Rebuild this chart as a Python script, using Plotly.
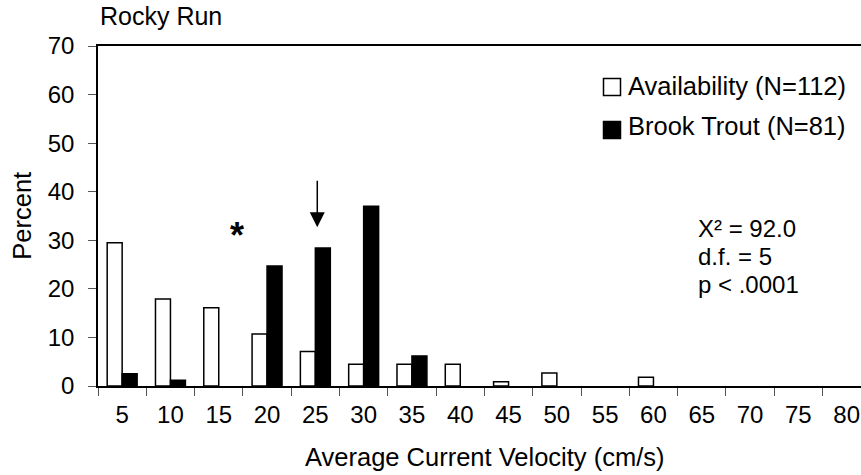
import plotly.graph_objects as go

# ---- data ----
categories = ["5", "10", "15", "20", "25", "30", "35", "40",
              "45", "50", "55", "60", "65", "70", "75", "80"]
availability = [29.5, 17.9, 16.1, 10.7, 7.1, 4.5, 4.5, 4.5,
                0.9, 2.7, 0, 1.8, 0, 0, 0, 0]
brook_trout = [2.5, 1.2, 0, 24.7, 28.4, 37.0, 6.2, 0,
               0, 0, 0, 0, 0, 0, 0, 0]
series_names = ["Availability (N=112)", "Brook Trout (N=81)"]
stats_lines = ["X\u00b2 = 92.0", "d.f. = 5", "p < .0001"]
y_ticks = [0, 10, 20, 30, 40, 50, 60, 70]

FONT = "Liberation Sans, Arial, sans-serif"
W, H = 861, 475
ML, MR, MT, MB = 98, 0, 46, 89
PW, PH = W - ML - MR, H - MT - MB


def px(x):
    return (x - ML) / PW


def py(y):
    return (H - MB - y) / PH


def outline(vals):
    # no outline on empty bars so they do not thicken the axis line
    return [1.5 if v > 0 else 0 for v in vals]


fig = go.Figure()
fig.add_trace(go.Bar(x=categories, y=availability, name=series_names[0],
                     marker=dict(color="white",
                                 line=dict(color="black", width=outline(availability))),
                     showlegend=False))
fig.add_trace(go.Bar(x=categories, y=brook_trout, name=series_names[1],
                     marker=dict(color="black",
                                 line=dict(color="black", width=outline(brook_trout))),
                     showlegend=False))

# visible categories: last one is cut by the right edge
cat_w = 48.3
x_end = -0.5 + PW / cat_w

fig.update_layout(
    width=W, height=H, autosize=False,
    margin=dict(l=ML, r=MR, t=MT, b=MB, pad=0),
    paper_bgcolor="white", plot_bgcolor="white",
    barmode="group", bargap=0.38, bargroupgap=0,
    font=dict(family=FONT, size=24, color="black"),
    xaxis=dict(type="category", range=[-0.5, x_end], tickson="boundaries",
               ticks="outside", ticklen=8, tickwidth=1, tickcolor="#555",
               showline=True, linecolor="black", linewidth=1.5, mirror=True,
               showgrid=False, zeroline=False, ticklabelstandoff=6,
               tickfont=dict(size=24)),
    yaxis=dict(range=[0, 70], tickvals=y_ticks, ticks="outside", ticklen=8,
               tickwidth=1, tickcolor="#555", showline=True, linecolor="black",
               linewidth=1.5, showgrid=False, zeroline=False,
               ticklabelstandoff=9, tickfont=dict(size=24)),
)

ann = []
# chart title
ann.append(dict(x=px(98), y=py(15.7), xref="paper", yref="paper", text="Rocky Run",
                showarrow=False, xanchor="left", yanchor="middle",
                font=dict(size=25)))
# axis titles
ann.append(dict(x=px(485), y=py(457), xref="paper", yref="paper",
                text="Average Current Velocity (cm/s)", showarrow=False,
                xanchor="center", yanchor="middle", font=dict(size=25.5)))
ann.append(dict(x=px(21.7), y=py(216), xref="paper", yref="paper", text="Percent",
                showarrow=False, textangle=-90, xanchor="center", yanchor="middle",
                font=dict(size=25.5)))
# legend (manual)
leg_rows = [85.5, 126.2]
for i, (name, fill) in enumerate(zip(series_names, ["white", "black"])):
    cy = [87, 130][i]
    fig.add_shape(type="rect", xref="paper", yref="paper",
                  x0=px(603.5), x1=px(620.5), y0=py(cy - 8.5), y1=py(cy + 8.5),
                  fillcolor=fill, line=dict(color="black", width=1.5))
    ann.append(dict(x=px(625.5), y=py(leg_rows[i]), xref="paper", yref="paper",
                    text=name, showarrow=False, xanchor="left", yanchor="middle",
                    font=dict(size=25.5)))
# stats
for i, (line, cy) in enumerate(zip(stats_lines, [228, 256.5, 284])):
    ann.append(dict(x=px(696), y=py(cy), xref="paper", yref="paper", text=line,
                    showarrow=False, xanchor="left", yanchor="middle",
                    font=dict(size=24)))
# asterisk
ann.append(dict(x=2.37, y=31.9, xref="x", yref="y", text="<b>*</b>",
                showarrow=False, xanchor="center", yanchor="middle", yshift=-4,
                font=dict(size=36)))
# arrow
ann.append(dict(x=4.04, y=32.7, xref="x", yref="y", text="", showarrow=True,
                arrowhead=2, arrowsize=2, arrowwidth=1.5, arrowcolor="black",
                ax=0, ay=-48, standoff=0))
fig.update_layout(annotations=ann)

fig.write_html("out.html")
